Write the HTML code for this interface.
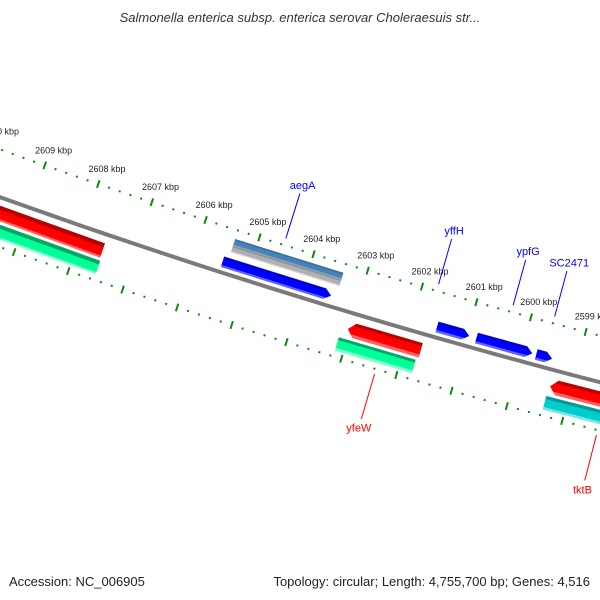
<!DOCTYPE html>
<html><head><meta charset="utf-8"><style>
body{margin:0;background:#fff;}
svg{display:block;font-family:"Liberation Sans",sans-serif;}
</style></head><body>
<svg id="map" width="600" height="600" viewBox="0 0 600 600" xmlns="http://www.w3.org/2000/svg">
<defs id="defs"></defs>
<text x="300" y="22" text-anchor="middle" font-size="13" font-style="italic" fill="#333">Salmonella enterica subsp. enterica serovar Choleraesuis str...</text>
<g id="ticks"></g>
<g id="backbone"></g>
<g id="feats"></g>
<g id="labels"></g>
<text x="9" y="586" font-size="13" fill="#222">Accession: NC_006905</text>
<text x="590" y="586" text-anchor="end" font-size="13" fill="#222">Topology: circular; Length: 4,755,700 bp; Genes: 4,516</text>
</svg>
<script>
// data (kbp)
const geneNames = ["left-red","left-green","aegA","aegA-cog","aegA-silver","yffH","ypfG","SC2471","yfeW","yfeW-green","tktB","tktB-cyan"];
const geneStart = [2607.55,2607.53,2603.49,2603.4,2603.4,2600.96,2599.81,2599.45,2601.71,2601.75,2597.0,2597.0];
const geneEnd   = [2612.0,2612.0,2605.49,2605.4,2605.4,2601.55,2600.83,2599.74,2603.04,2603.15,2599.36,2599.38];
const geneStrand = ["-","-","+","bar","bar","+","+","+","-","bar","-","bar"];
const geneTrack = ["red","green","blue","steel","silver","blue","blue","blue","red","green","red","cyan"];
const labelText = ["aegA","yffH","ypfG","SC2471","yfeW","tktB"];
const labelKbp = [2604.55,2601.73,2600.36,2599.6,2602.37,2598.36];
const labelSide = [-1,-1,-1,-1,1,1];
const tickStartKbp = 2596, tickEndKbp = 2612;

const CX=2345, CY=-6341, R=6946;
function ang(k){return (109.47-(2609-k)*0.47)*Math.PI/180;}
function pt(k,v){const a=ang(k),r=R+v;return [CX+r*Math.cos(a),CY+r*Math.sin(a)];}
const NS="http://www.w3.org/2000/svg";
function mk(tag,attrs,parent){const e=document.createElementNS(NS,tag);for(const k in attrs)e.setAttribute(k,attrs[k]);parent.appendChild(e);return e;}
const tracks={
 red:{v0:9,v1:24,c:["#b80000","#ff0000","#ff6060"]},
 green:{v0:27,v1:41,c:["#00a862","#00ff99","#80ffcc"]},
 cyan:{v0:27,v1:41,c:["#009a9a","#00cccc","#70e6e6"]},
 blue:{v0:-16,v1:-5,c:["#0000d0","#0000ff","#6060ff"]},
 steel:{v0:-36,v1:-29,c:["#3a6e9c","#4682b4","#6fa0cc"]},
 silver:{v0:-29,v1:-22,c:["#909090","#b0b0b0","#d8d8d8"]}
};
// ticks
const tg=document.getElementById('ticks');
for(let i=0;i<=(tickEndKbp-tickStartKbp)*5;i++){
  const k=tickStartKbp+i*0.2, major=(i%5===0);
  [-45,47].forEach(v=>{
    const a=pt(k,v-(major?4:1)),b=pt(k,v+(major?4:1));
    const l=mk('line',{x1:a[0],y1:a[1],x2:b[0],y2:b[1],stroke:'#118811','stroke-width':2},tg);
    
    
  });
  if(major){
    const p=pt(k-0.06,-62);
    const t=mk('text',{x:p[0],y:p[1]+3,'text-anchor':'middle','font-size':'9',fill:'#222'},tg);
    t.textContent=Math.round(k)+' kbp';
    
    
  }
}
// backbone
const bb=document.getElementById('backbone');
let d='';for(let k=2612;k>=2595;k-=0.5){const p=pt(k,0);d+=(d?'L':'M')+p[0].toFixed(1)+','+p[1].toFixed(1);}
const bp=mk('path',{d:d,stroke:'#7a7a7a','stroke-width':4,fill:'none'},bb);


// features
const fg=document.getElementById('feats'), defs=document.getElementById('defs');
geneNames.forEach((n,i)=>{
  const tr=tracks[geneTrack[i]], lo=geneStart[i], hi=geneEnd[i], s=geneStrand[i];
  const vm=(tr.v0+tr.v1)/2, tip=0.12;
  let pts;
  if(s==='+') pts=[[hi,tr.v0],[lo+tip,tr.v0],[lo,vm],[lo+tip,tr.v1],[hi,tr.v1]];
  else if(s==='-') pts=[[lo,tr.v0],[hi-tip,tr.v0],[hi,vm],[hi-tip,tr.v1],[lo,tr.v1]];
  else pts=[[lo,tr.v0],[hi,tr.v0],[hi,tr.v1],[lo,tr.v1]];
  const mid=(lo+hi)/2, a=pt(mid,tr.v0), b=pt(mid,tr.v1);
  const g=mk('linearGradient',{id:'g'+i,gradientUnits:'userSpaceOnUse',x1:a[0],y1:a[1],x2:b[0],y2:b[1]},defs);
  [[0,0],[0.2,0],[0.2,1],[0.78,1],[0.78,2],[1,2]].forEach(o=>mk('stop',{offset:o[0],'stop-color':tr.c[o[1]]},g));
  const poly=mk('polygon',{points:pts.map(q=>pt(q[0],q[1]).map(z=>z.toFixed(1)).join(',')).join(' '),fill:'url(#g'+i+')'},fg);
  
  
});
// labels
const lg=document.getElementById('labels');
labelText.forEach((t,i)=>{
  const sd=labelSide[i], k=labelKbp[i], col=sd<0?'#0000ff':'#ff0000';
  const a=pt(k,sd*52), b=pt(k,sd*99);
  const l=mk('line',{x1:a[0],y1:a[1],x2:b[0],y2:b[1],stroke:col,'stroke-width':1},lg);
  
  
  const p=pt(k,sd*108);
  const tx=mk('text',{x:p[0],y:p[1]+4,'text-anchor':'middle','font-size':'11',fill:col},lg);
  tx.textContent=t;
  
  
});
</script>
</body></html>
